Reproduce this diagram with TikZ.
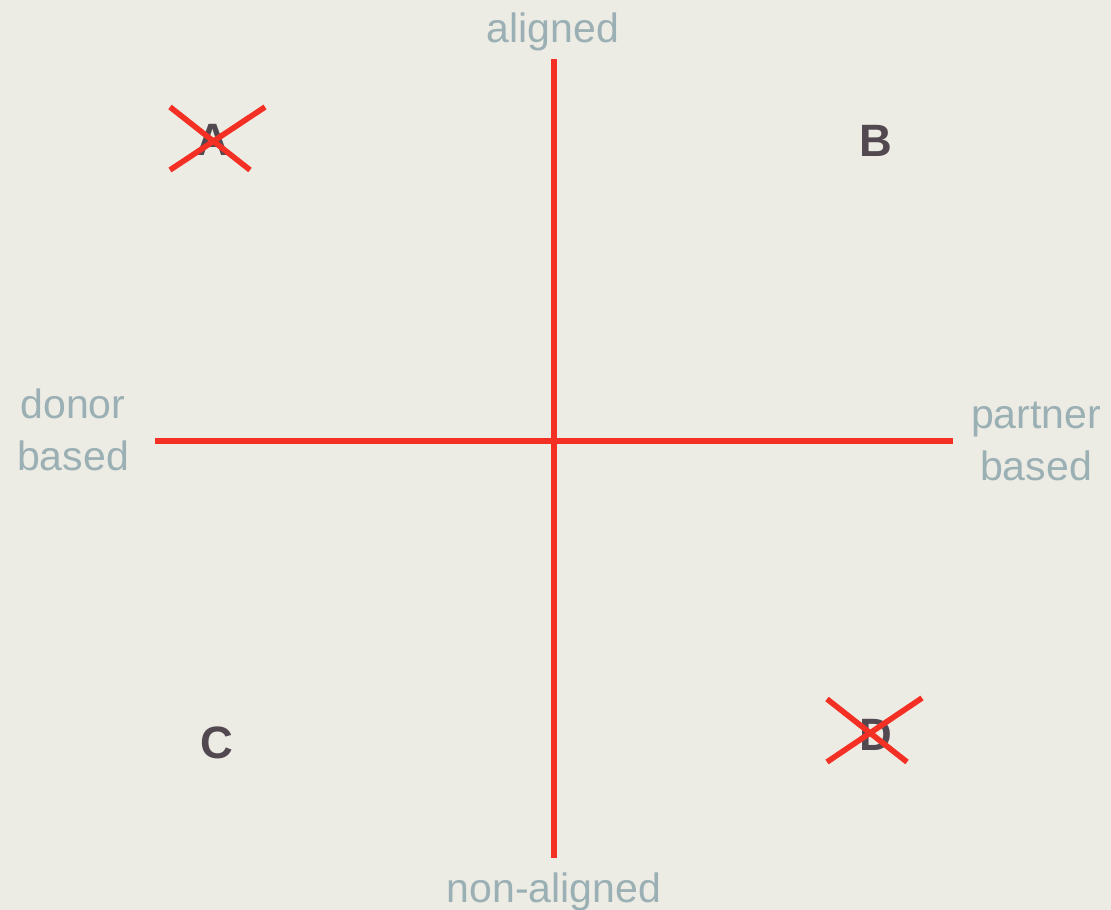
\documentclass[tikz,border=0pt]{standalone}
\usepackage{fontspec}
\setmainfont{Liberation Sans}
\usetikzlibrary{positioning}
\definecolor{bg}{HTML}{ECEBE4}
\definecolor{axisred}{HTML}{F42F23}
\definecolor{labelgrey}{HTML}{9BB0B4}
\definecolor{quadtext}{HTML}{524950}
\tikzset{
  axis/.style={draw=axisred, line width=4.2pt},
  strike/.style={draw=axisred, line width=4.2pt},
  axislabel/.style={text=labelgrey, font=\fontsize{30.75}{39}\selectfont, align=center, inner sep=0pt},
  quadrant/.style={text=quadtext, font=\fontsize{34}{40}\selectfont\bfseries, inner sep=0pt},
}

\begin{document}
\begin{tikzpicture}[x=0.75pt, y=-0.75pt]
\fill[bg] (0,0) rectangle (1111,910);
\useasboundingbox (0,0) rectangle (1111,910);

% axes
\coordinate (top) at (554,59);
\coordinate (bottom) at (554,858);
\coordinate (left) at (155,441);
\coordinate (right) at (953,441);
\draw[axis] (top) -- (bottom);
\draw[axis] (left) -- (right);

% axis labels (base = last line)
\node[axislabel, anchor=base] (aligned) at (553,42) {aligned};
\node[axislabel, anchor=base] (nonaligned) at (554,902) {non-aligned};
\node[axislabel, anchor=base] (donor) at (73,470) {donor\\based};
\node[axislabel, anchor=base] (partner) at (1036,480) {partner\\based};

% quadrants
\node[quadrant] (qa) at (213,140) {A};
\node[quadrant] (qb) at (876,141) {B};
\node[quadrant] (qc) at (217,743) {C};
\node[quadrant] (qd) at (876,735) {D};

% struck out
\draw[strike] (170,107) -- (250,170);
\draw[strike] (170,170) -- (265,107);
\draw[strike] (827,699) -- (907,762);
\draw[strike] (827,762) -- (922,698);

\end{tikzpicture}
\end{document}
